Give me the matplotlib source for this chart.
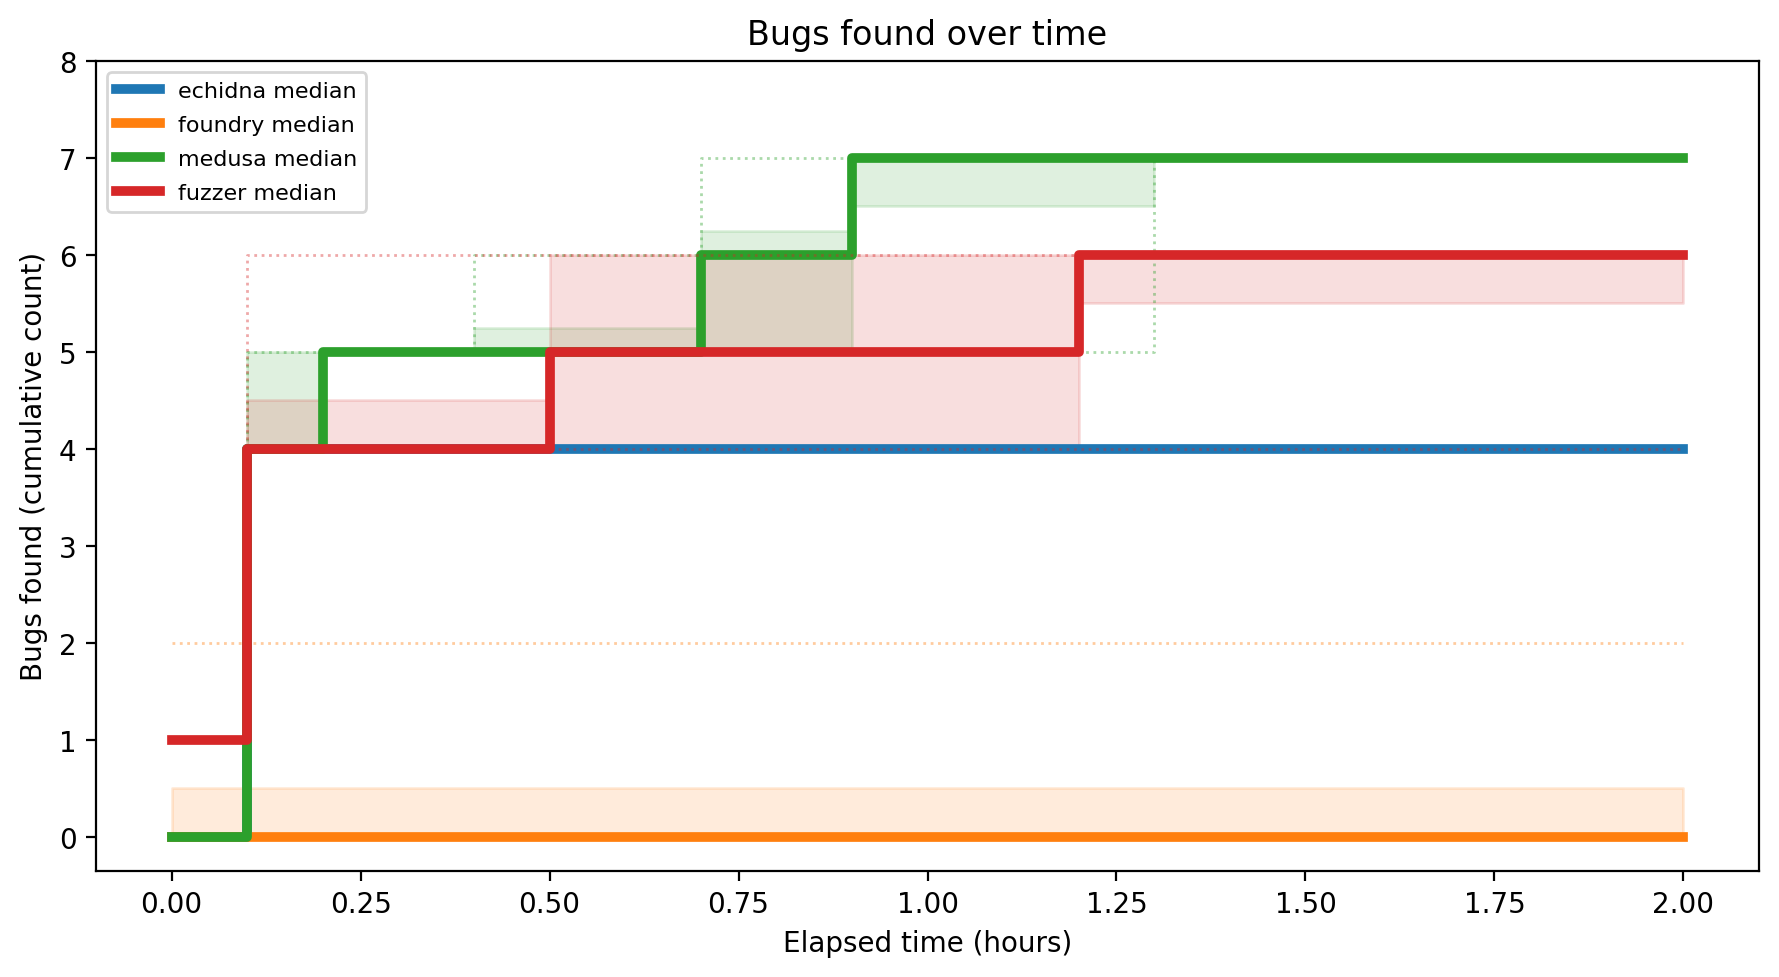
import matplotlib
matplotlib.use("Agg")
import matplotlib.pyplot as plt

# Sample times (hours)
times = [0.0, 0.1, 0.2, 0.4, 0.5, 0.7, 0.9, 1.2, 1.3, 2.0]

tools = ["echidna", "foundry", "medusa", "fuzzer"]
colors = ["tab:blue", "tab:orange", "tab:green", "tab:red"]

echidna_median = [0, 4, 4, 4, 4, 4, 4, 4, 4, 4]
echidna_q1     = [0, 4, 4, 4, 4, 4, 4, 4, 4, 4]
echidna_q3     = [0, 4, 4, 4, 4, 4, 4, 4, 4, 4]
echidna_min    = [0, 4, 4, 4, 4, 4, 4, 4, 4, 4]
echidna_max    = [0, 4, 4, 4, 4, 4, 4, 4, 4, 4]

foundry_median = [0, 0, 0, 0, 0, 0, 0, 0, 0, 0]
foundry_q1     = [0, 0, 0, 0, 0, 0, 0, 0, 0, 0]
foundry_q3     = [0.5, 0.5, 0.5, 0.5, 0.5, 0.5, 0.5, 0.5, 0.5, 0.5]
foundry_min    = [0, 0, 0, 0, 0, 0, 0, 0, 0, 0]
foundry_max    = [2, 2, 2, 2, 2, 2, 2, 2, 2, 2]

medusa_median = [0, 4, 5, 5, 5, 6, 7, 7, 7, 7]
medusa_q1     = [0, 4, 5, 5, 5, 5, 6.5, 6.5, 7, 7]
medusa_q3     = [0, 5, 5, 5.25, 5.25, 6.25, 7, 7, 7, 7]
medusa_min    = [0, 4, 5, 5, 5, 5, 5, 5, 7, 7]
medusa_max    = [0, 5, 5, 6, 6, 7, 7, 7, 7, 7]

fuzzer_median = [1, 4, 4, 4, 5, 5, 5, 6, 6, 6]
fuzzer_q1     = [1, 4, 4, 4, 4, 4, 4, 5.5, 5.5, 5.5]
fuzzer_q3     = [1, 4.5, 4.5, 4.5, 6, 6, 6, 6, 6, 6]
fuzzer_min    = [1, 4, 4, 4, 4, 4, 4, 4, 4, 4]
fuzzer_max    = [1, 6, 6, 6, 6, 6, 6, 6, 6, 6]

stats = {
    "echidna": (echidna_median, echidna_q1, echidna_q3, echidna_min, echidna_max),
    "foundry": (foundry_median, foundry_q1, foundry_q3, foundry_min, foundry_max),
    "medusa": (medusa_median, medusa_q1, medusa_q3, medusa_min, medusa_max),
    "fuzzer": (fuzzer_median, fuzzer_q1, fuzzer_q3, fuzzer_min, fuzzer_max),
}

fig = plt.figure(figsize=(1779 / 200, 978 / 200), dpi=200)
ax = fig.add_axes([96 / 1779, 1 - 871.7 / 978, (1759 - 96) / 1779, (871.7 - 62) / 978])

for tool, color in zip(tools, colors):
    med, q1, q3, mn, mx = stats[tool]
    ax.fill_between(times, q1, q3, step="post", color=color, alpha=0.15)
    ax.step(times, mn, where="post", color=color, alpha=0.4, lw=1.0, ls=":")
    ax.step(times, mx, where="post", color=color, alpha=0.4, lw=1.0, ls=":")
    ax.step(times, med, where="post", color=color, lw=3.5, label=f"{tool} median")

ax.set_ylim(-0.35, 8)
ax.set_xlim(-0.1, 2.1)
ax.set_title("Bugs found over time", fontsize=12)
ax.set_xlabel("Elapsed time (hours)", fontsize=10)
ax.set_ylabel("Bugs found (cumulative count)", fontsize=10)
ax.legend(loc="upper left", fontsize=8, labelspacing=0.63)

fig.savefig("out.png", dpi=200)
